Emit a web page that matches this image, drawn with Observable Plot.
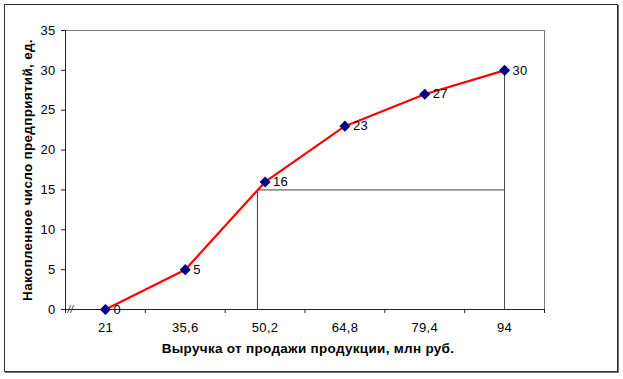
<!DOCTYPE html>
<html><head><meta charset="utf-8">
<script src="https://cdn.jsdelivr.net/npm/d3@7"></script>
<script src="https://cdn.jsdelivr.net/npm/@observablehq/plot@0.6"></script>
<style>
body{margin:0;background:#fff;}
#wrap{position:relative;width:623px;height:379px;}
#wrap svg{display:block;}
#border{position:absolute;left:4px;top:4px;width:612px;height:366px;border:1px solid #303030;box-shadow:1px 1px 0 #707070;pointer-events:none}
</style></head><body><div id="wrap"><div id="border"></div></div>
<script>
const revenue = [21, 35.6, 50.2, 64.8, 79.4, 94];
const revenueLabels = ["21", "35,6", "50,2", "64,8", "79,4", "94"];
const cumulative = [0, 5, 16, 23, 27, 30];
const yTicks = [0, 5, 10, 15, 20, 25, 30, 35];
const medianLevel = 15;
const medianRevenue = 48.8;
const intervalWidth = 14.6;
const xTitle = "Выручка от продажи продукции, млн руб.";
const yTitle = "Накопленное число предприятий, ед.";

const data = revenue.map((x, i) => ({x, y: cumulative[i], label: String(cumulative[i])}));
const x0 = revenue[0] - intervalWidth / 2;
const x1 = revenue[revenue.length - 1] + intervalWidth / 2;
const bounds = d3.range(revenue.length + 1).map(i => x0 + i * intervalWidth);
const labelOf = new Map(revenue.map((v, i) => [v, revenueLabels[i]]));
const lastX = revenue[revenue.length - 1];
const lastY = cumulative[cumulative.length - 1];

const chart = Plot.plot({
  width: 623,
  height: 379,
  marginLeft: 65,
  marginRight: 79,
  marginTop: 30,
  marginBottom: 70,
  style: {fontFamily: "'Liberation Sans', Arial, sans-serif", fontSize: "13px", color: "#000", background: "transparent", letterSpacing: "0.3px"},
  x: {domain: [x0, x1]},
  y: {domain: [0, 35]},
  marks: [
    Plot.frame({stroke: "#808080"}),
    Plot.axisY({ticks: yTicks, tickSize: 4, tickPadding: 6, label: null, fontSize: 13, stroke: "#222"}),
    Plot.axisX({ticks: revenue, tickSize: 0, tickPadding: 13, tickFormat: d => labelOf.get(d), label: null, fontSize: 13}),
    Plot.axisX({ticks: bounds, tickSize: 4, tickFormat: () => "", label: null, stroke: "#222"}),
    Plot.ruleX([x0], {stroke: "#222"}),
    Plot.ruleY([0], {stroke: "#222"}),
    Plot.ruleX([medianRevenue], {y1: 0, y2: medianLevel, stroke: "#404040"}),
    Plot.ruleY([medianLevel], {x1: medianRevenue, x2: lastX, stroke: "#404040"}),
    Plot.ruleX([lastX], {y1: 0, y2: lastY, stroke: "#404040"}),
    Plot.text([0], {x: x0, y: 0, text: () => "//", dx: 5, dy: 0, fontSize: 10, fontStyle: "italic", fill: "#222"}),
    Plot.line(data, {x: "x", y: "y", stroke: "#ff0000", strokeWidth: 2.2}),
    Plot.dot(data, {x: "x", y: "y", symbol: "diamond2", r: 5, fill: "#000080", stroke: "none"}),
    Plot.text(data, {x: "x", y: "y", text: "label", dx: 8, textAnchor: "start", fontSize: 13, fill: "#000"}),
    Plot.text([yTitle], {frameAnchor: "left", dx: -38, rotate: -90, text: d => d, fontWeight: "bold", fontSize: 13.5, textAnchor: "middle"}),
    Plot.text([xTitle], {frameAnchor: "bottom", dy: 43, dx: 3, text: d => d, fontWeight: "bold", fontSize: 13.5, textAnchor: "middle"})
  ]
});
document.getElementById("wrap").prepend(chart);
</script></body></html>
